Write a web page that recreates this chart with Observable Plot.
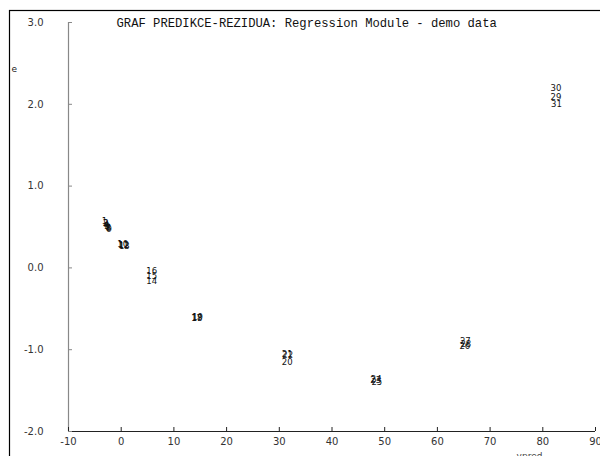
<!DOCTYPE html>
<html>
<head>
<meta charset="utf-8">
<script src="https://cdn.jsdelivr.net/npm/d3@7"></script>
<script src="https://cdn.jsdelivr.net/npm/@observablehq/plot@0.6"></script>
<style>
  html, body { margin: 0; padding: 0; background: #fff; overflow: hidden; }
  #chart svg { display: block; }
</style>
</head>
<body>
<div id="chart"></div>
<script>
// Residual plot: predicted value (ypred) vs residual (e), each point drawn as its observation number
const obs = [1, 2, 3, 4, 5, 6, 7, 8, 9, 10, 11, 12, 13, 14, 15, 16, 17, 18, 19, 20, 21, 22, 23, 24, 25, 26, 27, 28, 29, 30, 31];
const ypred = [-3.2, -3.0, -2.9, -2.8, -2.7, -2.6, -2.5, -2.4, -2.3,
               0.3, 0.4, 0.5, 0.6,
               5.8, 5.8, 5.8,
               14.3, 14.4, 14.5,
               31.5, 31.5, 31.6,
               48.3, 48.4, 48.5,
               65.2, 65.3, 65.4,
               82.5, 82.5, 82.6];
const resid = [0.57, 0.55, 0.54, 0.52, 0.51, 0.50, 0.49, 0.48, 0.47,
               0.29, 0.28, 0.28, 0.27,
               -0.16, -0.10, -0.04,
               -0.61, -0.62, -0.60,
               -1.15, -1.05, -1.07,
               -1.37, -1.36, -1.40,
               -0.96, -0.90, -0.93,
               2.085, 2.195, 2.0];
const xTicks = [-10, 0, 10, 20, 30, 40, 50, 60, 70, 80, 90];
const yTicks = [-2, -1, 0, 1, 2, 3];
const title = "GRAF PREDIKCE-REZIDUA: Regression Module - demo data";
const xLabel = "ypred";
const yLabel = "e";

const points = obs.map((n, i) => ({n, x: ypred[i], y: resid[i]}));

const chart = Plot.plot({
  width: 600,
  height: 456,
  marginLeft: 68,
  marginRight: 5,
  marginTop: 22,
  marginBottom: 25,
  style: {fontFamily: "DejaVu Sans", fontSize: "10px", color: "#222", background: "#fff"},
  x: {domain: [-10, 90]},
  y: {domain: [-2, 3]},
  marks: [
    // outer panel border
    Plot.frame({stroke: "#000", strokeWidth: 1.2, insetLeft: -59, insetTop: -12, insetRight: -30, insetBottom: -60}),
    // axis lines
    Plot.ruleX([-10], {stroke: "#888", strokeWidth: 1.2}),
    Plot.ruleY([-2], {stroke: "#222", strokeWidth: 1.2}),
    Plot.axisY({
      ticks: yTicks, tickSize: -4, tickPadding: 29, stroke: "#888", fill: "#333",
      tickFormat: d => d.toFixed(1), label: null, fontSize: 10
    }),
    Plot.axisX({
      ticks: xTicks, tickSize: -4, tickPadding: 10, stroke: "#222", fill: "#333",
      tickFormat: d => String(d), label: null, fontSize: 10
    }),
    Plot.text([title], {frameAnchor: "top-left", textAnchor: "start", dx: 48, dy: -4,
      fontFamily: "Liberation Mono", fontSize: 12.2, fill: "#111"}),
    Plot.text([yLabel], {frameAnchor: "top-left", textAnchor: "start", dx: -57, dy: 43,
      fontSize: 9, fill: "#222"}),
    Plot.text([xLabel], {frameAnchor: "bottom-left", textAnchor: "middle", lineAnchor: "top",
      dx: 461, dy: 21, fontSize: 9, fill: "#444"}),
    // observation numbers at (ypred, e)
    Plot.text(points, {x: "x", y: "y", text: d => String(d.n), fontSize: 8.5, fill: "#111"})
  ]
});
document.getElementById("chart").append(chart);
</script>
</body>
</html>
